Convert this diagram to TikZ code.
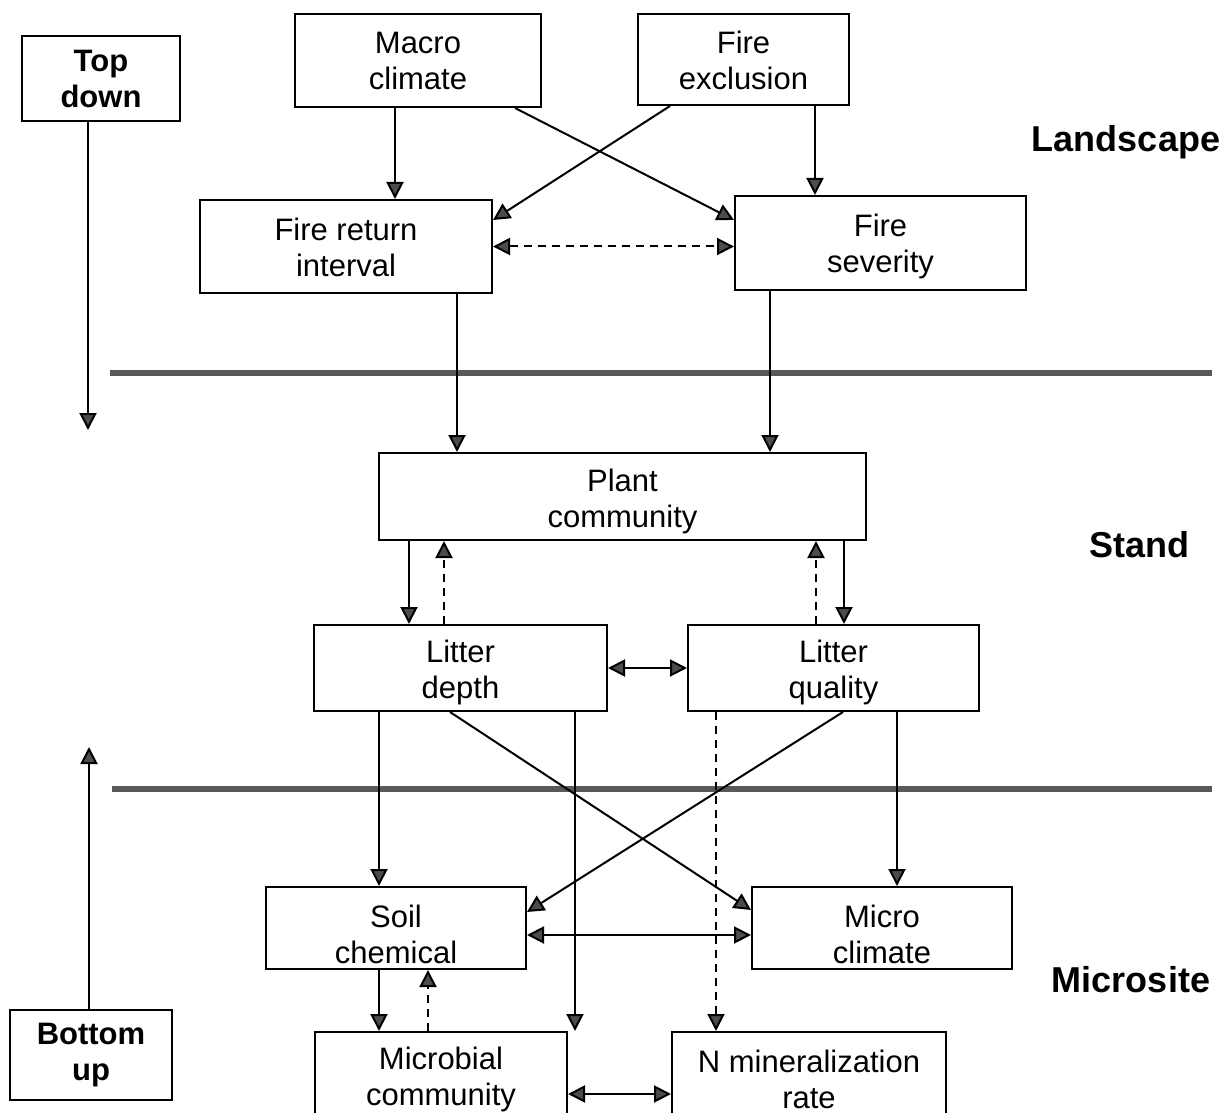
\documentclass[tikz,border=0pt]{standalone}
\usepackage{fontspec}
\setmainfont{Liberation Sans}
\usetikzlibrary{arrows.meta}
\newcommand\dnr[1]{\rule{0pt}{#1}}
\begin{document}
\begin{tikzpicture}[x=0.5pt,y=-0.5pt,
 box/.style={draw, line width=1pt, rectangle, inner sep=0pt, align=center, font=\fontsize{15.5pt}{18pt}\selectfont},
 bbox/.style={box, font=\bfseries\fontsize{15.5pt}{18pt}\selectfont},
 lbl/.style={font=\bfseries\fontsize{18pt}{21pt}\selectfont, inner sep=0pt},
 tip/.tip={Triangle[length=8.5pt,width=8.5pt,fill=black!70]},
 arr/.style={line width=1pt, -tip},
 darr/.style={line width=1pt, tip-tip},
 dsh/.style={dash pattern=on 4pt off 3pt},
 sep/.style={line width=3pt, gray!70!black}]
\useasboundingbox (0,0) rectangle (1228,1113);
\clip (0,0) rectangle (1228,1113);

% boxes
\node[bbox, minimum width=79pt, minimum height=42.5pt] (td) at (101,78.5) {Top\\down};
\node[bbox, minimum width=81pt, minimum height=45pt] (bu) at (91,1055) {Bottom\\up};
\node[box, minimum width=123pt, minimum height=46.5pt] (mc) at (418,60.5) {Macro\\climate};
\node[box, minimum width=105.5pt, minimum height=45.5pt] (fe) at (743.5,59.5) {\dnr{12.5pt}Fire\\exclusion};
\node[box, minimum width=146pt, minimum height=46.5pt] (fri) at (346,246.5) {\dnr{12.5pt}Fire return\\interval};
\node[box, minimum width=145.5pt, minimum height=47pt] (fs) at (880.5,243) {\dnr{15pt}Fire\\severity};
\node[box, minimum width=243.5pt, minimum height=43.5pt] (pc) at (622.5,496.5) {\dnr{16.4pt}Plant\\community};
\node[box, minimum width=146.5pt, minimum height=43pt] (ld) at (460.5,668) {\dnr{15.4pt}Litter\\depth};
\node[box, minimum width=145.5pt, minimum height=43pt] (lq) at (833.5,668) {\dnr{15.4pt}Litter\\quality};
\node[box, minimum width=130pt, minimum height=41pt] (sc) at (396,928) {\dnr{17.4pt}Soil\\chemical};
\node[box, minimum width=130pt, minimum height=41pt] (mcl) at (882,928) {\dnr{17.4pt}Micro\\climate};
\node[box, minimum width=126pt, minimum height=47pt] (mb) at (441,1079) {Microbial\\community};
\node[box, minimum width=137pt, minimum height=47pt] (nm) at (809,1079) {N mineralization\\rate};

% level labels
\node[lbl] (land) at (1126,142) {Landscape};
\node[lbl] (stand) at (1139,545) {Stand};
\node[lbl] (micro) at (1131,980) {Microsite};

% separators
\draw[sep] (110,373) -- (1212,373);
\draw[sep] (112,789) -- (1212,789);

% direction arrows
\coordinate (tdend) at (88,430);
\coordinate (buend) at (89,747);
\draw[arr] ([xshift=-6.5pt]td.south) -- (tdend);
\draw[arr] ([xshift=-1pt]bu.north) -- (buend);

% landscape connectors
\draw[arr] ([xshift=-11.5pt]mc.south) -- ([xshift=-11.5pt]mc.south |- fri.north);
\draw[arr] ([xshift=48.5pt]mc.south) -- ([yshift=11.5pt]fs.west);
\draw[arr] ([xshift=-36.75pt]fe.south) -- ([yshift=13.25pt]fri.east);
\draw[arr] ([xshift=35.75pt]fe.south) -- ([xshift=35.75pt]fe.south |- fs.north);
\draw[darr, dsh] (fri.east) -- (fri.east -| fs.west);
\draw[arr] ([xshift=55.5pt]fri.south) -- ([xshift=55.5pt]fri.south |- pc.north);
\draw[arr] ([xshift=-55.25pt]fs.south) -- ([xshift=-55.25pt]fs.south |- pc.north);

% stand connectors
\draw[arr] ([xshift=-106.75pt]pc.south) -- ([xshift=-106.75pt]pc.south |- ld.north);
\draw[arr, dsh] ([xshift=-8.25pt]ld.north) -- ([xshift=-8.25pt]ld.north |- pc.south);
\draw[arr, dsh] ([xshift=-8.75pt]lq.north) -- ([xshift=-8.75pt]lq.north |- pc.south);
\draw[arr] ([xshift=110.75pt]pc.south) -- ([xshift=110.75pt]pc.south |- lq.north);
\draw[darr] (ld.east) -- (lq.west);

% microsite connectors
\draw[arr] ([xshift=-40.75pt]ld.south) -- ([xshift=-40.75pt]ld.south |- sc.north);
\draw[arr] ([xshift=-5.25pt]ld.south) -- ([yshift=9pt]mcl.west);
\draw[arr] ([xshift=57.25pt]ld.south) -- ([xshift=57.25pt]ld.south |- mb.north);
\draw[arr, dsh] ([xshift=-58.75pt]lq.south) -- ([xshift=-58.75pt]lq.south |- nm.north);
\draw[arr] ([xshift=4.75pt]lq.south) -- ([yshift=8pt]sc.east);
\draw[arr] ([xshift=31.75pt]lq.south) -- ([xshift=31.75pt]lq.south |- mcl.north);
\draw[darr] ([yshift=-3.5pt]sc.east) -- ([yshift=-3.5pt]sc.east -| mcl.west);
\draw[arr] ([xshift=-8.5pt]sc.south) -- ([xshift=-8.5pt]sc.south |- mb.north);
\draw[arr, dsh] ([xshift=-6.5pt]mb.north) -- ([xshift=-6.5pt]mb.north |- sc.south);
\draw[darr] ([yshift=-7.5pt]mb.east) -- ([yshift=-7.5pt]mb.east -| nm.west);
\end{tikzpicture}
\end{document}
